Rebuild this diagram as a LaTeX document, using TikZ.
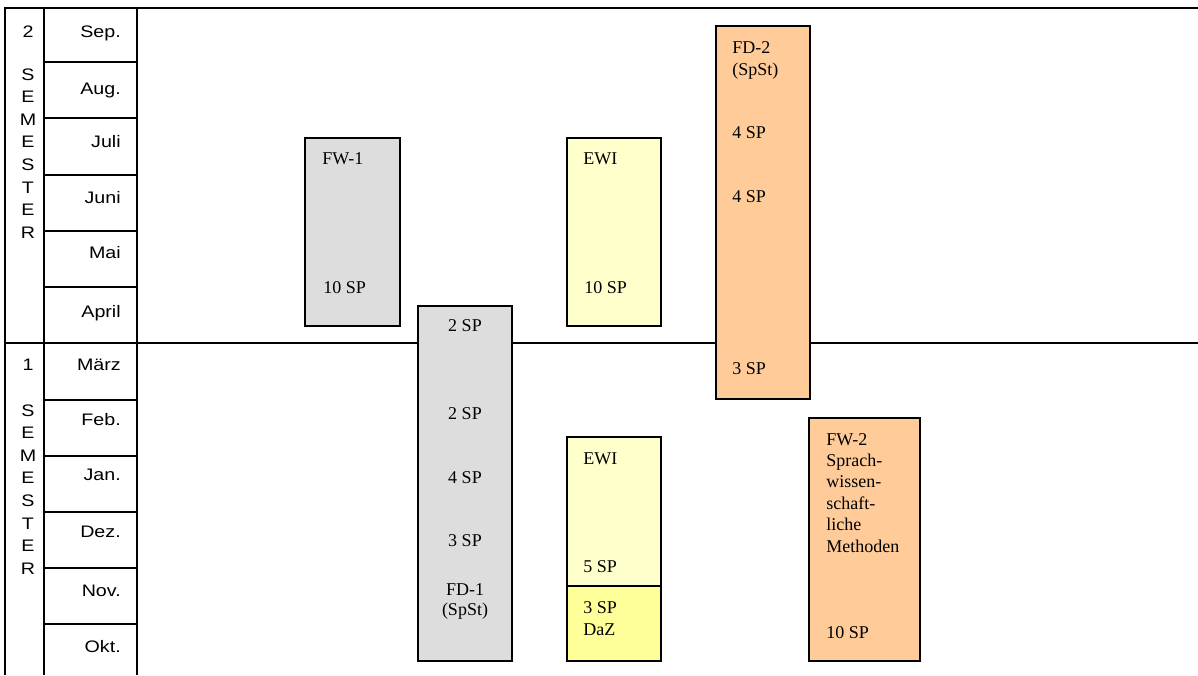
\documentclass[tikz,border=0pt]{standalone}
\usepackage{fontspec}
\setmainfont{Liberation Serif}
\setsansfont{Liberation Sans}
\newfontfamily\widesans[FakeStretch=1.18]{Liberation Sans}
\usepackage{xcolor}
\usepackage{tikz}

\definecolor{modgray}{HTML}{DDDDDD}
\definecolor{ewiyellow}{HTML}{FFFFCC}
\definecolor{dazyellow}{HTML}{FFFF99}
\definecolor{fdpeach}{HTML}{FFCC99}

\tikzset{
  gridline/.style={line width=1.5pt},
  modbox/.style={draw, line width=1.4pt},
  sp/.style={font=\fontsize{13.5}{16}\selectfont, anchor=base west, inner sep=0pt},
  spmid/.style={sp, anchor=base},
  month/.style={font=\widesans\fontsize{12.5}{15}\selectfont, anchor=base east, inner sep=0pt},
  sem/.style={font=\widesans\fontsize{12.5}{15}\selectfont, anchor=base, inner sep=0pt}
}

\begin{document}
\begin{tikzpicture}[x=0.75pt,y=-0.75pt]
    \useasboundingbox (0,0) rectangle (1198,675);

    % Table frame
    \draw[gridline] (5,675) -- (5,8) -- (1198,8);
    \draw[gridline] (5,343) -- (1198,343);
    \draw[gridline] (44,8) -- (44,675);
    \draw[gridline] (137,8) -- (137,675);
    \foreach \y in {62,118,175,231,287,400,456,512,568,624}
        \draw[gridline] (44,\y) -- (137,\y);

    % Months
    \foreach \m/\y [count=\i] in {Sep./31,Aug./88,Juli/141,Juni/197,Mai/252,April/311,März/364,Feb./419,Jan./474,Dez./531,Nov./590,Okt./646}
        \node[month] (month\i) at (121,\y+6) {\m};

    % Semester labels
    \node[sem] (semtwo) at (28,37) {2};
    \node[sem] (semone) at (28,370) {1};
    \foreach \l [count=\i from 0] in {S,E,M,E,S,T,E,R} {
        \node[sem] (semtwo\i) at (28,80+22.6*\i) {\l};
        \node[sem] (semone\i) at (28,416+22.6*\i) {\l};
    }

    % FW-1
    \draw[modbox, fill=modgray] (305,138) rectangle (400,326);
    \node[sp] (fwone) at (322,164) {FW-1};
    \node[sp] (fwonesp) at (323,293) {10 SP};

    % FD-1
    \draw[modbox, fill=modgray] (418,306) rectangle (512,661);
    \foreach \t/\y [count=\i] in {2 SP/331,2 SP/419,4 SP/483,3 SP/546,FD-1/595,(SpSt)/615}
        \node[spmid] (fdone\i) at (465,\y) {\t};

    % EWI, 2. Semester
    \draw[modbox, fill=ewiyellow] (567,138) rectangle (661,326);
    \node[sp] (ewitwo) at (583,164) {EWI};
    \node[sp] (ewitwosp) at (584,293) {10 SP};

    % EWI and DaZ, 1. Semester
    \draw[modbox, fill=ewiyellow] (567,437) rectangle (661,586);
    \draw[modbox, fill=dazyellow] (567,586) rectangle (661,661);
    \node[sp] (ewione) at (583,464) {EWI};
    \node[sp] (ewionesp) at (583,572) {5 SP};
    \node[sp] (dazsp) at (583,613) {3 SP};
    \node[sp] (daz) at (583,635) {DaZ};

    % FD-2
    \draw[modbox, fill=fdpeach] (716,26) rectangle (810,399);
    \foreach \t/\y [count=\i] in {FD-2/53,(SpSt)/75,4 SP/138,4 SP/202,3 SP/374}
        \node[sp] (fdtwo\i) at (732,\y) {\t};

    % FW-2
    \draw[modbox, fill=fdpeach] (809,418) rectangle (920,661);
    \foreach \t [count=\i from 0] in {FW-2,Sprach-,wissen-,schaft-,liche,Methoden}
        \node[sp] (fwtwo\i) at (826,445+21.4*\i) {\t};
    \node[sp] (fwtwosp) at (826,638) {10 SP};

\end{tikzpicture}
\end{document}
